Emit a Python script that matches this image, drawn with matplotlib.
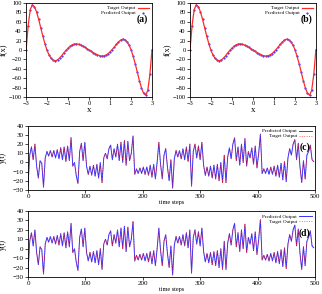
import matplotlib

matplotlib.use("Agg")

import matplotlib.pyplot as plt
import numpy as np

plt.rcParams["font.family"] = ["Liberation Serif", "DejaVu Serif"]

# function approximation panels (a), (b)
fx_x = np.round(np.arange(-30, 31) / 10.0, 1)
fx_target = [
    0, 52, 86, 96, 92, 81, 65, 47, 29, 13,
    -1, -11, -18, -22, -23, -21, -17, -12, -6, -1,
    4, 8, 11, 12.5, 13, 12, 10.5, 8, 5.5, 2.8,
    0,
    -2.8, -5.5, -8, -10.5, -12, -13, -12.5, -11, -8, -4,
    1, 6, 12, 17, 21, 23, 22, 18, 11, 1,
    -13, -29, -47, -65, -81, -92, -96, -86, -52, 0,
]
fx_pred = fx_target

# time series panels (c), (d), sampled every 3 steps
ts_t = np.arange(0, 499, 3)
ts_target = [
    -25, 8, 17, 3, 20, -4, -17, 2, -1, -27, 5,
    12, 7, 13, 6, 13, 5, 14, 4, 16, 3, 17, 1, 18, 2, 27,
    -4, 0, -14, -23, 12, 21, 2, 22, -4,
    -13, -4, -14, -3, -15, -2, -17, 0, -22, 5,
    10, 4, 15, 19, 3, 15, 6, 20, 2, 22, 0, 24, -3, 23, 2, 10, 29,
    -13, -7, -12, -6, -12, -5, -13, -5, -14, -3, -16, -2, -18, 0, 22,
    -2, -18, 8, 15, -5, -20, 3, -28, 4,
    13, 6, 13, 4, 15, 3, 17, 1, 20, -26,
    12, 20, 5, 18, 3, 22, -3,
    -14, -5, -15, -4, -17, -3, -18, -2, -20, 0, -22, 8, -22, 6,
    16, 4, 20, 27, 2, 17, -3, 20, 0, 26, -4, 12, 5, 16, -2, 18, -6, 10, 31,
    -12, -7, -12, -6, -13, -5, -13, -4, -15, -3, -16, -1, -19, 1, -21,
    5, 15, 8, 20, 25, 3, 21, -5, -22, 2, -18, 8, 12, 19, 3, 1,
]
ts_pred = ts_target

RED = "#ff2a2a"
BLUE = "#2424ff"


def style_axes(ax, size):
    ax.tick_params(labelsize=size, length=2, width=0.5, pad=1.2)
    for s in ax.spines.values():
        s.set_linewidth(0.6)


fig = plt.figure(figsize=(3.22, 2.94), dpi=100)

for left, tag in [(0.081, "(a)"), (0.590, "(b)")]:
    ax = fig.add_axes([left, 0.670, 0.391, 0.320])
    ax.plot(fx_x, fx_pred, ".", color=BLUE, markersize=1.1, label="Predicted Output")
    ax.plot(fx_x, fx_target, "-", color=RED, linewidth=0.9, label="Target Output")
    ax.set_xlim(-3, 3)
    ax.set_ylim(-100, 100)
    ax.set_xticks(range(-3, 4))
    ax.set_yticks(range(-100, 101, 20))
    ax.set_xlabel("x", fontsize=6.5, labelpad=0)
    ax.set_ylabel("f(x)", fontsize=6)
    ax.yaxis.set_label_coords(-0.145, 0.5)
    style_axes(ax, 4.6)
    h, l = ax.get_legend_handles_labels()
    ax.legend(h[::-1], l[::-1], loc="upper right", fontsize=3.6, frameon=False,
              markerfirst=False, handlelength=2.2, borderaxespad=0.2,
              labelspacing=0.1, handletextpad=0.5)
    ax.text(0.97, 0.83, tag, transform=ax.transAxes, ha="right", va="center",
            fontsize=7, fontweight="bold")

for bottom, height, tag in [(0.354, 0.218, "(c)"), (0.058, 0.224, "(d)")]:
    ax = fig.add_axes([0.087, bottom, 0.891, height])
    ax.plot(ts_t, ts_pred, "-", color=BLUE, linewidth=0.65, label="Predicted Output")
    ax.plot(ts_t, ts_target, ":", color=RED, linewidth=0.65, alpha=0.8, label="Target Output")
    ax.set_xlim(0, 500)
    ax.set_ylim(-30, 40)
    ax.set_xticks(range(0, 501, 100))
    ax.set_yticks(range(-30, 41, 10))
    ax.set_xlabel("time steps", fontsize=4.5, labelpad=0.5)
    ax.set_ylabel("y(t)", fontsize=5.5)
    ax.yaxis.set_label_coords(-0.075, 0.5)
    style_axes(ax, 5)
    ax.legend(loc="upper right", fontsize=3.6, frameon=False, markerfirst=False,
              handlelength=2.5, borderaxespad=0.2, labelspacing=0.1,
              handletextpad=0.5)
    ax.text(0.985, 0.66, tag, transform=ax.transAxes, ha="right", va="center",
            fontsize=7, fontweight="bold")

fig.savefig("out.png", dpi=100)
